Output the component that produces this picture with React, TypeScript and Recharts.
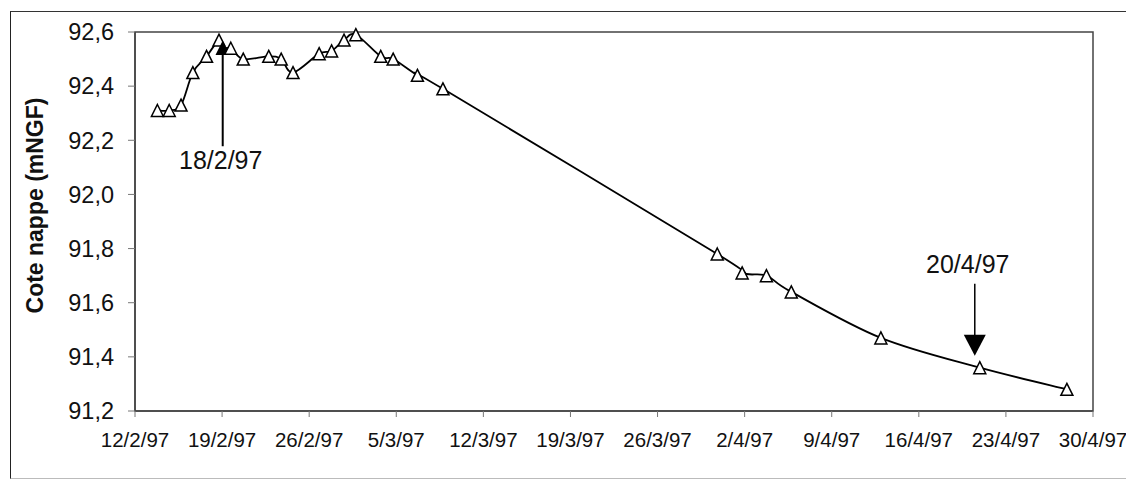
import React from 'react';
import { LineChart, Line, XAxis, YAxis, ReferenceArea, ReferenceDot } from 'recharts';

// days since 12/2/97
const dayOffsets = [
  1.8, 2.75, 3.7, 4.65, 5.75, 6.75, 7.05, 7.7, 8.7, 10.75, 11.75, 12.7, 14.8, 15.8,
  16.8, 17.75, 19.75, 20.75, 22.7, 24.75, 46.8, 48.8, 50.75, 52.75, 59.95, 67.9, 74.9,
];
const levels = [
  92.31, 92.31, 92.33, 92.45, 92.51, 92.57, 92.54, 92.54, 92.5, 92.51, 92.5, 92.45, 92.52, 92.53,
  92.57, 92.59, 92.51, 92.5, 92.44, 92.39, 91.78, 91.71, 91.7, 91.64, 91.47, 91.36, 91.28,
];
const tickDays = [0, 7, 14, 21, 28, 35, 42, 49, 56, 63, 70, 77];
const tickLabels = [
  '12/2/97', '19/2/97', '26/2/97', '5/3/97', '12/3/97', '19/3/97',
  '26/3/97', '2/4/97', '9/4/97', '16/4/97', '23/4/97', '30/4/97',
];
const yTicks = [91.2, 91.4, 91.6, 91.8, 92.0, 92.2, 92.4, 92.6];
const highlighted = 6; // point marked 18/2/97
const annotated = 25; // point marked 20/4/97

const data = dayOffsets.map((day, i) => ({ day, level: levels[i] }));
const font = '"Liberation Sans", Arial, sans-serif';

// Excel-like smoothed line (Catmull-Rom through the points)
function smoothCurve(context: any) {
  let pts: number[][] = [];
  return {
    areaStart() {},
    areaEnd() {},
    lineStart() {
      pts = [];
    },
    point(x: number, y: number) {
      pts.push([+x, +y]);
    },
    lineEnd() {
      if (!pts.length) return;
      context.moveTo(pts[0][0], pts[0][1]);
      for (let i = 0; i < pts.length - 1; i++) {
        const p0 = pts[i - 1] || pts[i];
        const p1 = pts[i];
        const p2 = pts[i + 1];
        const p3 = pts[i + 2] || p2;
        context.bezierCurveTo(
          p1[0] + (p2[0] - p0[0]) / 6, p1[1] + (p2[1] - p0[1]) / 6,
          p2[0] - (p3[0] - p1[0]) / 6, p2[1] - (p3[1] - p1[1]) / 6,
          p2[0], p2[1],
        );
      }
    },
  };
}

function Triangle(props: any) {
  const { cx, cy, index } = props;
  if (cx == null || cy == null) return null;
  const h = 6;
  const filled = index === highlighted;
  return (
    <path
      key={`tri-${index}`}
      d={`M${cx},${cy - h} L${cx + h},${cy + h} L${cx - h},${cy + h} Z`}
      fill={filled ? '#000' : '#fff'}
      stroke="#000"
      strokeWidth={1.5}
    />
  );
}

function YTitle(props: any) {
  const vb = props.viewBox || { x: 0, y: 0, width: 0, height: 0 };
  const x = vb.x + 35;
  const y = vb.y + vb.height / 2 - 16;
  return (
    <text
      x={x}
      y={y}
      transform={`rotate(-90 ${x} ${y})`}
      textAnchor="middle"
      dominantBaseline="central"
      fontFamily={font}
      fontWeight="bold"
      fontSize={23}
      fill="#111"
    >
      Cote nappe (mNGF)
    </text>
  );
}

function UpArrow(props: any) {
  const { cx, cy } = props;
  if (cx == null) return null;
  return (
    <g>
      <line x1={cx} y1={cy} x2={cx} y2={cy + 98} stroke="#000" strokeWidth={2} />
      <text x={cx - 2} y={cy + 121} textAnchor="middle" fontFamily={font} fontSize={25} fill="#111">
        18/2/97
      </text>
    </g>
  );
}

function DownArrow(props: any) {
  const { cx, cy } = props;
  if (cx == null) return null;
  const ax = cx - 5;
  return (
    <g>
      <line x1={ax} y1={cy - 84} x2={ax} y2={cy - 32} stroke="#000" strokeWidth={1.5} />
      <path d={`M${ax - 11},${cy - 33} L${ax + 11},${cy - 33} L${ax},${cy - 12} Z`} fill="#000" />
      <text x={cx - 12} y={cy - 95} textAnchor="middle" fontFamily={font} fontSize={25} fill="#111">
        20/4/97
      </text>
    </g>
  );
}

export default function App() {
  return (
    <div style={{ position: 'absolute', left: 0, top: 0, width: 1126, height: 481, background: '#fff', overflow: 'hidden' }}>
      <div
        style={{
          position: 'absolute', left: 10, top: 11, width: 1130, height: 466,
          borderLeft: '1.5px solid #222', borderTop: '1.5px solid #333', borderBottom: '1px solid #bbb',
        }}
      />
      <LineChart width={1126} height={481} data={data} margin={{ top: 32, right: 33, left: 0, bottom: 0 }}>
        <ReferenceArea x1={0} x2={77} y1={91.2} y2={92.6} fill="none" stroke="#444" strokeWidth={1.5} />
        <XAxis
          dataKey="day"
          type="number"
          domain={[0, 77]}
          ticks={tickDays}
          tickFormatter={(v: number) => tickLabels[tickDays.indexOf(v)] ?? ''}
          height={70}
          interval={0}
          tickSize={6}
          tickMargin={15}
          axisLine={{ stroke: '#444', strokeWidth: 1.5 }}
          tickLine={{ stroke: '#777' }}
          tick={{ fontFamily: font, fontSize: 20.5, fill: '#111' }}
        />
        <YAxis
          type="number"
          domain={[91.2, 92.6]}
          ticks={yTicks}
          width={135}
          interval={0}
          tickSize={7}
          tickMargin={14}
          tickFormatter={(v: number) => v.toFixed(1).replace('.', ',')}
          axisLine={{ stroke: '#444', strokeWidth: 1.5 }}
          tickLine={{ stroke: '#777' }}
          tick={{ fontFamily: font, fontSize: 23.5, fill: '#111' }}
          label={(p: any) => <YTitle {...p} />}
        />
        <Line
          type={smoothCurve as any}
          dataKey="level"
          stroke="#000"
          strokeWidth={1.8}
          dot={(p: any) => <Triangle {...p} />}
          activeDot={false}
          isAnimationActive={false}
        />
        <ReferenceDot x={dayOffsets[highlighted]} y={levels[highlighted]} r={0} shape={(p: any) => <UpArrow {...p} />} />
        <ReferenceDot x={dayOffsets[annotated]} y={levels[annotated]} r={0} shape={(p: any) => <DownArrow {...p} />} />
      </LineChart>
    </div>
  );
}
